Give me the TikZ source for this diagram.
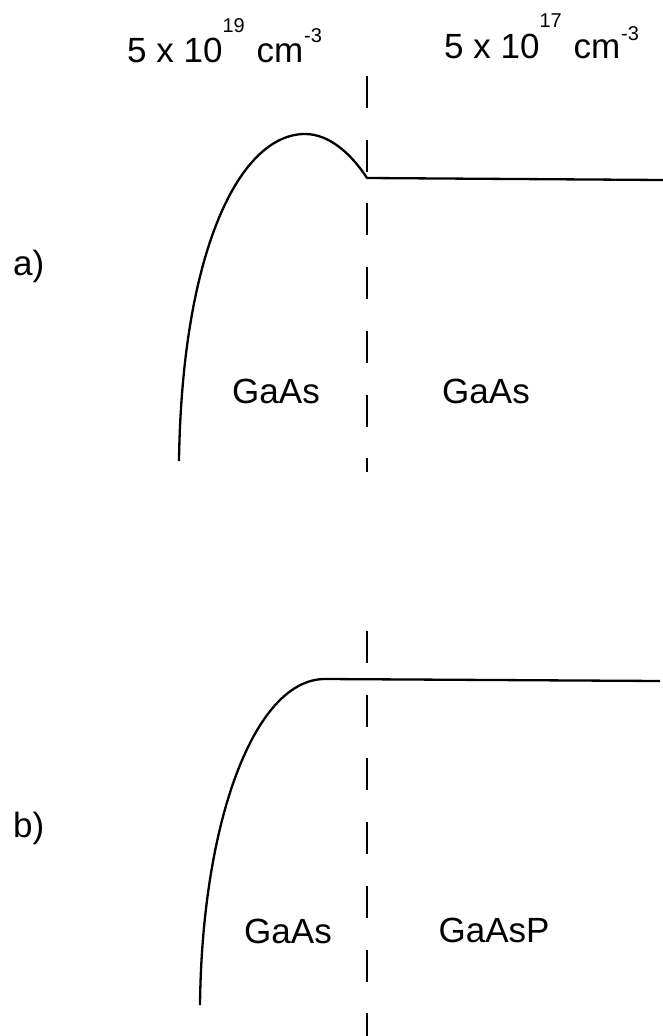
\documentclass[tikz,border=0pt]{standalone}
\usepackage{fontspec}
\setmainfont{Liberation Sans}
\begin{document}
\begin{tikzpicture}[x=1pt,y=-1pt,
  band/.style={line width=2.3pt,line join=round},
  iface/.style={line width=2pt,dash pattern=on 32pt off 31.7pt},
  lbl/.style={inner sep=0pt,anchor=base west,font=\fontsize{35}{40}\selectfont},
  lblc/.style={inner sep=0pt,anchor=base,font=\fontsize{35}{40}\selectfont}]
\useasboundingbox (0,0) rectangle (663,1036);
\newcommand{\supx}[2]{\raisebox{#1pt}{\fontsize{20}{24}\selectfont #2}}
% doping labels
\node[lbl] (dopl) at (127,62) {5 x 10\supx{30}{19}\hspace{2pt} cm\hspace{1pt}\supx{20}{-3}};
\node[lbl] (dopr) at (444,58) {5 x 10\supx{31}{17}\hspace{2pt} cm\hspace{1pt}\supx{18}{-3}};
% panel labels
\node[lbl] (la) at (13,275) {a)};
\node[lbl] (lb) at (13,837) {b)};
% panel a
\coordinate (a0) at (179,461);
\coordinate (apk) at (305,134);
\coordinate (aj) at (367,178);
\coordinate (ae) at (663,180);
\draw[band] (a0) .. controls (182,250) and (240,134) .. (apk)
  .. controls (330,134) and (352,155) .. (aj) -- (ae);
\coordinate (at) at (367,76);
\coordinate (ab) at (367,472);
\draw[iface] (at) -- (ab);
\node[lblc] (ga1) at (276,403) {GaAs};
\node[lblc] (ga2) at (486,403) {GaAs};
% panel b
\coordinate (b0) at (200,1005);
\coordinate (bk) at (325,679);
\coordinate (be) at (660,681);
\draw[band] (b0) .. controls (202,820) and (255,679) .. (bk) -- (be);
\coordinate (bt) at (367,631);
\coordinate (bb) at (367,1036);
\draw[iface] (bt) -- (bb);
\node[lblc] (gb1) at (288,943) {GaAs};
\node[lblc] (gb2) at (494,942) {GaAsP};
\end{tikzpicture}
\end{document}
